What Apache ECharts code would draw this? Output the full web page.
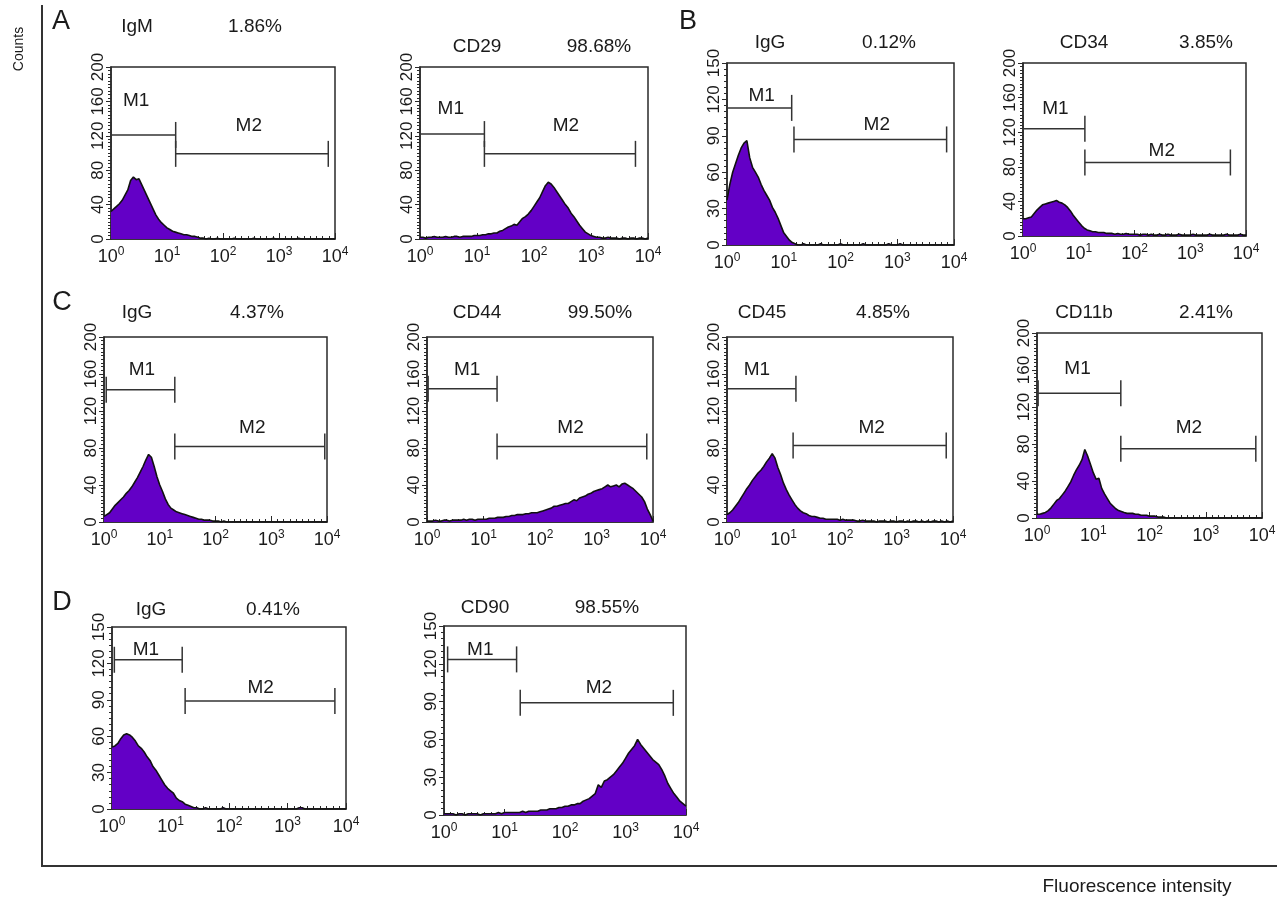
<!DOCTYPE html>
<html>
<head>
<meta charset="utf-8">
<script src="https://cdn.jsdelivr.net/npm/echarts@6/dist/echarts.min.js"></script>
<style>
html,body{margin:0;padding:0;background:#fff;}
#chart{width:1279px;height:898px;}
</style>
</head>
<body>
<div id="chart"></div>
<script>
// ---- channel positions (log10 of fluorescence intensity) ----
const logPos = [0,0.05,0.1,0.15,0.2,0.25,0.3,0.35,0.4,0.45,
  0.5,0.55,0.6,0.65,0.7,0.75,0.8,0.85,0.9,0.95,
  1,1.05,1.1,1.15,1.2,1.25,1.3,1.35,1.4,1.45,
  1.5,1.55,1.6,1.65,1.7,1.75,1.8,1.85,1.9,1.95,
  2,2.05,2.1,2.15,2.2,2.25,2.3,2.35,2.4,2.45,
  2.5,2.55,2.6,2.65,2.7,2.75,2.8,2.85,2.9,2.95,
  3,3.05,3.1,3.15,3.2,3.25,3.3,3.35,3.4,3.45,
  3.5,3.55,3.6,3.65,3.7,3.75,3.8,3.85,3.9,3.95,4];
const xTickExps = [0,1,2,3,4];

// ---- histogram counts ----
const countsIgM_A = [32,35,38,41,45,51,57,68,72,69, 70,63,56,49,42,35,28,23,19,16, 13,11,9,8,7,6,5,5,4,3,
  3,2,1,1,0,1,0,0,1,0, 0,0,0,0,1,0,0,0,0,0, 0,1,0,0,0,0,0,0,1,0, 0,0,0,0,0,0,0,1,0,0, 0,0,0,0,0,0,0,0,0,0, 0];
const countsCD29 = [2,2,1,2,2,3,2,2,2,3, 2,2,3,3,2,3,3,3,3,4, 4,4,5,5,6,6,7,7,9,10,
  12,14,15,17,16,20,24,26,29,33, 38,43,48,55,62,66,64,60,55,50, 45,40,36,30,26,21,16,12,8,6,
  4,3,2,2,1,1,2,1,1,1, 0,1,1,0,1,1,0,1,1,0, 1];
const countsIgG_B = [37,50,60,67,74,80,84,86,72,64, 60,56,50,45,41,37,31,27,22,16, 10,7,4,2,1,0,0,1,0,0,
  0,0,0,1,0,0,0,0,0,0, 1,0,0,0,0,0,0,0,1,0, 0,0,0,0,0,0,0,1,0,0, 0,1,0,0,0,0,0,0,0,0, 0,0,0,0,0,0,0,0,0,0, 0];
const countsCD34 = [20,20,21,22,26,30,33,36,37,38, 39,40,41,39,38,36,33,29,24,20, 16,12,9,7,6,5,5,4,4,4,
  3,3,3,2,3,2,2,3,2,2, 2,2,1,2,2,1,2,1,1,2, 1,1,2,1,1,1,2,1,1,1, 1,2,1,1,1,1,1,2,1,1, 1,1,1,2,1,1,1,1,2,1, 1];
const countsIgG_C = [6,8,10,14,18,21,24,27,31,34, 38,43,48,54,60,67,73,70,60,49, 40,33,25,19,15,13,11,10,9,8,
  7,6,5,4,3,3,2,2,2,1, 1,1,0,1,0,0,0,0,0,0, 0,0,0,0,0,0,0,0,0,0, 0,0,0,0,0,0,0,0,0,0, 0,0,0,0,0,0,0,0,0,0, 0];
const countsCD44 = [1,1,1,2,1,1,2,2,1,2, 2,2,2,3,2,3,3,2,3,3, 3,3,4,4,4,5,5,5,6,6,
  7,7,8,8,8,9,9,10,10,10, 11,12,13,14,15,17,17,18,19,20, 20,22,24,23,26,27,28,30,31,33,
  34,35,36,38,40,38,39,40,38,41, 42,40,38,36,33,30,27,22,14,8, 1];
const countsCD45 = [8,10,13,17,21,26,31,36,40,45, 49,53,56,60,65,69,74,69,59,51, 42,35,29,24,19,15,12,10,9,7,
  6,6,5,4,4,3,3,3,3,3, 2,3,2,2,2,2,1,1,2,1, 1,1,1,0,1,1,1,0,1,1, 0,1,1,0,1,0,1,1,0,1, 0,1,0,1,1,0,1,0,1,0, 1];
const countsCD11b = [4,4,5,6,8,11,15,19,21,25, 29,34,39,46,52,57,63,74,67,58, 49,42,43,32,26,21,16,13,10,8,
  7,6,5,5,5,4,4,3,3,3, 2,2,2,1,1,1,0,0,0,0, 0,0,0,0,0,0,0,0,0,0, 0,0,0,0,0,0,0,0,0,0, 0,0,0,0,0,0,0,0,0,0, 0];
const countsIgG_D = [51,52,54,58,61,62,61,59,56,52, 50,47,43,40,35,32,28,24,20,17, 15,13,9,7,6,4,3,2,1,1,
  0,0,1,0,0,0,0,0,1,0, 0,0,0,0,0,0,0,0,0,0, 0,0,0,0,0,0,0,0,0,0, 0,0,0,0,1,1,0,0,0,0, 0,0,0,0,0,0,0,0,0,0, 0];
const countsCD90 = [1,1,1,1,0,1,1,0,1,1, 1,1,0,1,1,1,1,1,2,1, 2,2,2,2,2,2,3,2,3,3,
  3,3,4,4,4,5,5,5,6,6, 7,7,8,8,9,9,11,12,13,15, 17,24,22,27,28,30,32,35,38,41,
  45,49,52,55,60,56,53,50,47,44, 42,40,36,31,25,21,17,14,11,9, 7];

const panelCounts = [countsIgM_A, countsCD29, countsIgG_B, countsCD34, countsIgG_C, countsCD44, countsCD45, countsCD11b, countsIgG_D, countsCD90];
const antibodyNames = ['IgM','CD29','IgG','CD34','IgG','CD44','CD45','CD11b','IgG','CD90'];
const percentLabels = ['1.86%','98.68%','0.12%','3.85%','4.37%','99.50%','4.85%','2.41%','0.41%','98.55%'];
const yMaxes = [200,200,150,200,200,200,200,200,150,150];
const yIntervals = [40,40,30,40,40,40,40,40,30,30];

// ---- gates: [start, end, level] in (log10 intensity, counts) ----
const gateM1 = [[0,1.155,121],[0,1.13,122],[0,1.14,113],[0,1.11,124],[0.04,1.27,143],[0.02,1.24,144],[0,1.22,144],[0.02,1.49,135],[0.04,1.2,123],[0.06,1.2,123.5]];
const gateM2 = [[1.155,3.88,99],[1.13,3.78,99],[1.18,3.87,87],[1.11,3.72,85],[1.27,3.96,81.5],[1.24,3.89,81.5],[1.17,3.88,82.6],[1.49,3.89,75],[1.25,3.81,89],[1.26,3.79,89]];
const gateM1Label = [[0.45,161],[0.54,151],[0.61,123],[0.58,147],[0.68,165],[0.71,165],[0.53,165],[0.72,161],[0.58,131],[0.6,131]];
const gateM2Label = [[2.46,132],[2.56,132],[2.64,99],[2.49,98],[2.66,102],[2.54,102],[2.56,102],[2.70,98],[2.54,100],[2.56,101]];
const gateNames = ['M1','M2'];

const panelLetters = ['A','B','C','D'];
const yAxisTitle = 'Counts';
const xAxisTitle = 'Fluorescence intensity';

// ---- layout (pixels): plot box [left, top, right, bottom] ----
const boxes = [
  [111,67,335,239],[420,67,648,239],[727,63,954,245],[1023,63,1246,236],
  [104,337,327,522],[427,337,653,522],[727,337,953,522],[1037,333,1262,518],
  [112,627,346,809],[444,626,686,815]
];
// title centers: [nameX, pctX, y]
const titlePos = [
  [137,255,27],[477,599,47],[770,889,43],[1084,1206,43],
  [137,257,313],[477,600,313],[762,883,313],[1084,1206,313],
  [151,273,610],[485,607,608]
];
const letterPos = [[61,22],[688,22],[62,303],[62,603]];

const FONT = '"Liberation Sans", Arial, Helvetica, sans-serif';
const TXT = '#1a1a1a';
const PURPLE = '#6300C6';

const grids = [], xAxes = [], yAxes = [], series = [], graphics = [];

boxes.forEach((b, i) => {
  grids.push({left: b[0], top: b[1], width: b[2]-b[0], height: b[3]-b[1], show: true,
    borderColor: '#2a2a2a', borderWidth: 1.5, backgroundColor: 'transparent', containLabel: false});
  xAxes.push({type: 'value', gridIndex: i, min: 0, max: 4, interval: 1,
    axisLine: {show: true, onZero: false, lineStyle: {color: '#2a2a2a', width: 1.5}},
    axisTick: {show: true, inside: true, length: 6, lineStyle: {color: '#2a2a2a'}},
    minorTick: {show: true, splitNumber: 9, length: 3, lineStyle: {color: '#2a2a2a'}},
    splitLine: {show: false},
    axisLabel: {margin: 7, color: TXT, fontFamily: FONT,
      formatter: v => '{b|10}{s|' + xTickExps[Math.round(v)] + '}',
      rich: {b: {fontSize: 18, lineHeight: 22, fontFamily: FONT, color: TXT},
             s: {fontSize: 12, lineHeight: 12, verticalAlign: 'top', fontFamily: FONT, color: TXT}}}
  });
  yAxes.push({type: 'value', gridIndex: i, min: 0, max: yMaxes[i], interval: yIntervals[i],
    axisLine: {show: true, lineStyle: {color: '#2a2a2a', width: 1.5}},
    axisTick: {show: true, length: 5, lineStyle: {color: '#2a2a2a'}},
    minorTick: {show: true, splitNumber: yMaxes[i] === 200 ? 10 : 6, length: 3, lineStyle: {color: '#2a2a2a'}},
    splitLine: {show: false},
    axisLabel: {rotate: 90, margin: 4, fontSize: 17, color: TXT, fontFamily: FONT}
  });
  series.push({type: 'line', xAxisIndex: i, yAxisIndex: i, symbol: 'none', animation: false,
    data: logPos.map((p, k) => [p, panelCounts[i][k]]),
    lineStyle: {color: '#111', width: 1.6},
    areaStyle: {color: PURPLE, opacity: 1}, z: 2});
  const gates = [gateM1[i].concat(gateM1Label[i]), gateM2[i].concat(gateM2Label[i])];
  series.push({type: 'custom', xAxisIndex: i, yAxisIndex: i, clip: false, silent: true, animation: false, z: 5,
    data: gates,
    renderItem: (params, api) => {
      const p1 = api.coord([api.value(0), api.value(2)]);
      const p2 = api.coord([api.value(1), api.value(2)]);
      const lp = api.coord([api.value(3), api.value(4)]);
      const h = 13, st = {stroke: '#333', lineWidth: 1.5};
      return {type: 'group', children: [
        {type: 'line', shape: {x1: p1[0], y1: p1[1], x2: p2[0], y2: p2[1]}, style: st},
        {type: 'line', shape: {x1: p1[0], y1: p1[1]-h, x2: p1[0], y2: p1[1]+h}, style: st},
        {type: 'line', shape: {x1: p2[0], y1: p2[1]-h, x2: p2[0], y2: p2[1]+h}, style: st},
        {type: 'text', x: lp[0], y: lp[1], style: {x: 0, y: 0, text: gateNames[params.dataIndex], fill: TXT,
          font: '19px ' + FONT, align: 'center', verticalAlign: 'middle'}}
      ]};
    }
  });
  const t = titlePos[i];
  graphics.push({type: 'text', x: t[0], y: t[2], style: {text: antibodyNames[i], fill: TXT, font: '19px ' + FONT, align: 'center', verticalAlign: 'middle'}});
  graphics.push({type: 'text', x: t[1], y: t[2], style: {text: percentLabels[i], fill: TXT, font: '19px ' + FONT, align: 'center', verticalAlign: 'middle'}});
});

panelLetters.forEach((L, i) => {
  graphics.push({type: 'text', x: letterPos[i][0], y: letterPos[i][1], style: {text: L, fill: TXT, font: '27px ' + FONT, align: 'center', verticalAlign: 'middle'}});
});
graphics.push({type: 'line', shape: {x1: 42, y1: 5, x2: 42, y2: 867}, style: {stroke: '#333', lineWidth: 2}});
graphics.push({type: 'line', shape: {x1: 41, y1: 866, x2: 1277, y2: 866}, style: {stroke: '#333', lineWidth: 2}});
graphics.push({type: 'text', x: 19, y: 49, rotation: Math.PI/2, style: {text: yAxisTitle, fill: TXT, font: '14px ' + FONT, align: 'center', verticalAlign: 'middle'}});
graphics.push({type: 'text', x: 1137, y: 887, style: {text: xAxisTitle, fill: TXT, font: '19px ' + FONT, align: 'center', verticalAlign: 'middle'}});

const chart = echarts.init(document.getElementById('chart'), null, {renderer: 'canvas'});
chart.setOption({
  animation: false,
  backgroundColor: '#fff',
  grid: grids, xAxis: xAxes, yAxis: yAxes, series: series,
  graphic: graphics
});
</script>
</body>
</html>
